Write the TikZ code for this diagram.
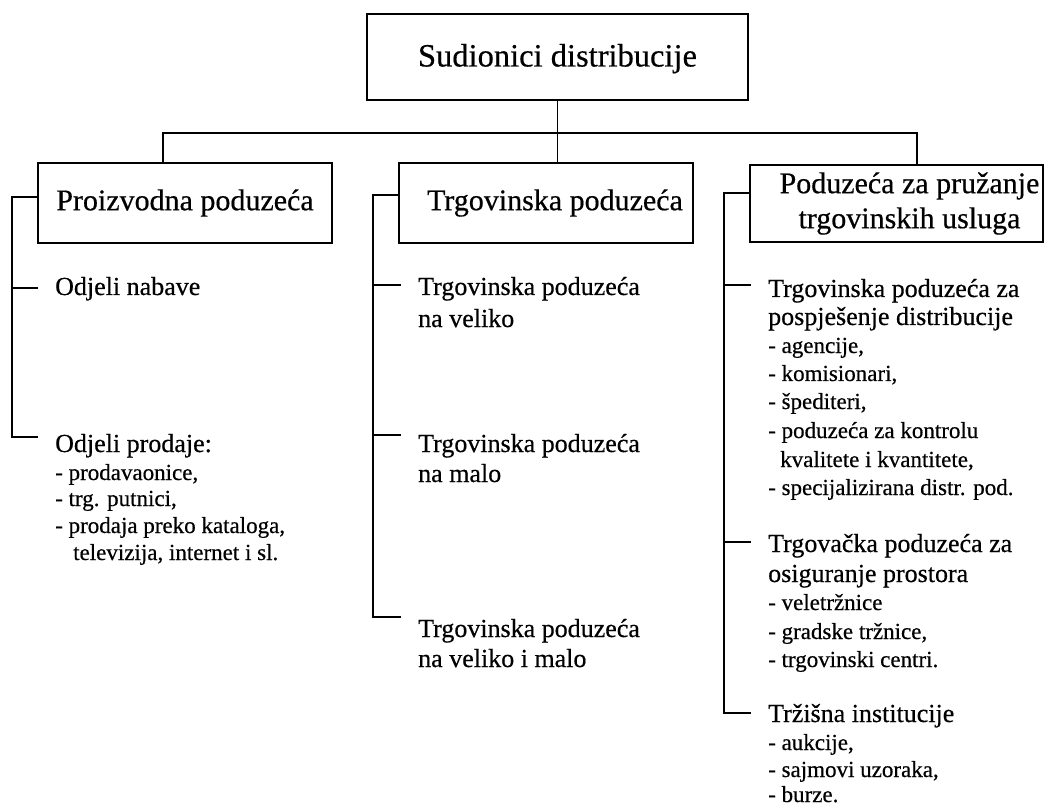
\documentclass[tikz,border=0pt]{standalone}
\usepackage{fontspec}
\setmainfont{Liberation Serif}[FakeBold=0.5]
\begin{document}
\begin{tikzpicture}[x=1pt,y=-1pt,
  box/.style={draw, line width=2pt, inner sep=0pt},
  conn/.style={line width=1.8pt},
  bigfont/.style={font=\fontsize{30}{35}\selectfont},
  head/.style={anchor=base west, inner sep=0pt, font=\fontsize{26}{30}\selectfont},
  item/.style={anchor=base west, inner sep=0pt, font=\fontsize{23}{27}\selectfont},
  tick/.style={conn, shorten >=17pt}]
\path[use as bounding box] (0,0) rectangle (1045,805);

% boxes
\node[box, minimum width=381pt, minimum height=86pt, font=\fontsize{32.5}{38}\selectfont, text height=22pt, text depth=3pt] (top) at (557.5,57) {Sudionici distribucije};
\node[box, bigfont, minimum width=294pt, minimum height=80pt] (b1) at (185,203) {Proizvodna poduzeća};
\node[box, bigfont, minimum width=294pt, minimum height=80pt] (b2) at (546,203) {\hspace*{18pt}Trgovinska poduzeća};
\node[box, bigfont, align=center, minimum width=293pt, minimum height=77pt] (b3) at (896.5,203.5) {\hspace*{26pt}Poduzeća za pružanje\\\hspace*{26pt}trgovinskih usluga};

% column 1 texts
\node[head] (t1a) at (55,295) {Odjeli nabave};
\node[head] (t1b) at (55,452) {Odjeli prodaje:};
\node[item] (t1c) at (55,480) {- prodavaonice,};
\node[item] (t1d) at (55,506) {- trg. putnici,};
\node[item] (t1e) at (55,533) {- prodaja preko kataloga,};
\node[item] (t1f) at (73,560) {televizija, internet i sl.};

% column 2 texts
\node[head] (t2a) at (418,295) {Trgovinska poduzeća};
\node[head] (t2b) at (418,327) {na veliko};
\node[head] (t2c) at (418,452) {Trgovinska poduzeća};
\node[head] (t2d) at (418,482) {na malo};
\node[head] (t2e) at (418,637) {Trgovinska poduzeća};
\node[head] (t2f) at (418,667) {na veliko i malo};

% column 3 texts
\node[head] (t3a) at (768,297) {Trgovinska poduzeća za};
\node[head] (t3b) at (768,325) {pospješenje distribucije};
\node[item] (t3c) at (768,353) {- agencije,};
\node[item] (t3d) at (768,381) {- komisionari,};
\node[item] (t3e) at (768,409) {- špediteri,};
\node[item] (t3f) at (768,438) {- poduzeća za kontrolu};
\node[item] (t3g) at (780,467) {kvalitete i kvantitete,};
\node[item] (t3h) at (768,495) {- specijalizirana distr. pod.};
\node[head] (t3i) at (768,552) {Trgovačka poduzeća za};
\node[head] (t3j) at (768,582) {osiguranje prostora};
\node[item] (t3k) at (768,610) {- veletržnice};
\node[item] (t3l) at (768,639) {- gradske tržnice,};
\node[item] (t3m) at (768,667) {- trgovinski centri.};
\node[head] (t3n) at (768,722) {Tržišna institucije};
\node[item] (t3o) at (768,750) {- aukcije,};
\node[item] (t3p) at (768,777) {- sajmovi uzoraka,};
\node[item] (t3q) at (768,802) {- burze.};

% top connectors
\coordinate (hub) at (557.5,133);
\draw[conn] (top.south) -- (top.south |- b2.north);
\draw[conn] ([xshift=-22pt]b1.north) |- (hub) -| ([xshift=20.5pt]b3.north);

% column 1 bracket
\coordinate (c1t) at (12,197);
\coordinate (c1a) at (12,288);
\coordinate (c1b) at (12,437);
\draw[tick] ([yshift=6pt]b1.west) -- (c1t) -- (c1b) -- (c1b -| t1b.west);
\draw[tick] (c1a) -- (c1a -| t1a.west);

% column 2 bracket
\coordinate (c2t) at (373,195);
\coordinate (c2a) at (373,285);
\coordinate (c2b) at (373,435);
\coordinate (c2c) at (373,617);
\draw[tick] ([yshift=8pt]b2.west) -- (c2t) -- (c2c) -- (c2c -| t2e.west);
\draw[tick] (c2a) -- (c2a -| t2a.west);
\draw[tick] (c2b) -- (c2b -| t2c.west);

% column 3 bracket
\coordinate (c3t) at (724,193);
\coordinate (c3a) at (724,285);
\coordinate (c3b) at (724,542);
\coordinate (c3c) at (724,713);
\draw[tick] ([yshift=10.5pt]b3.west) -- (c3t) -- (c3c) -- (c3c -| t3n.west);
\draw[tick] (c3a) -- (c3a -| t3a.west);
\draw[tick] (c3b) -- (c3b -| t3i.west);
\end{tikzpicture}
\end{document}
